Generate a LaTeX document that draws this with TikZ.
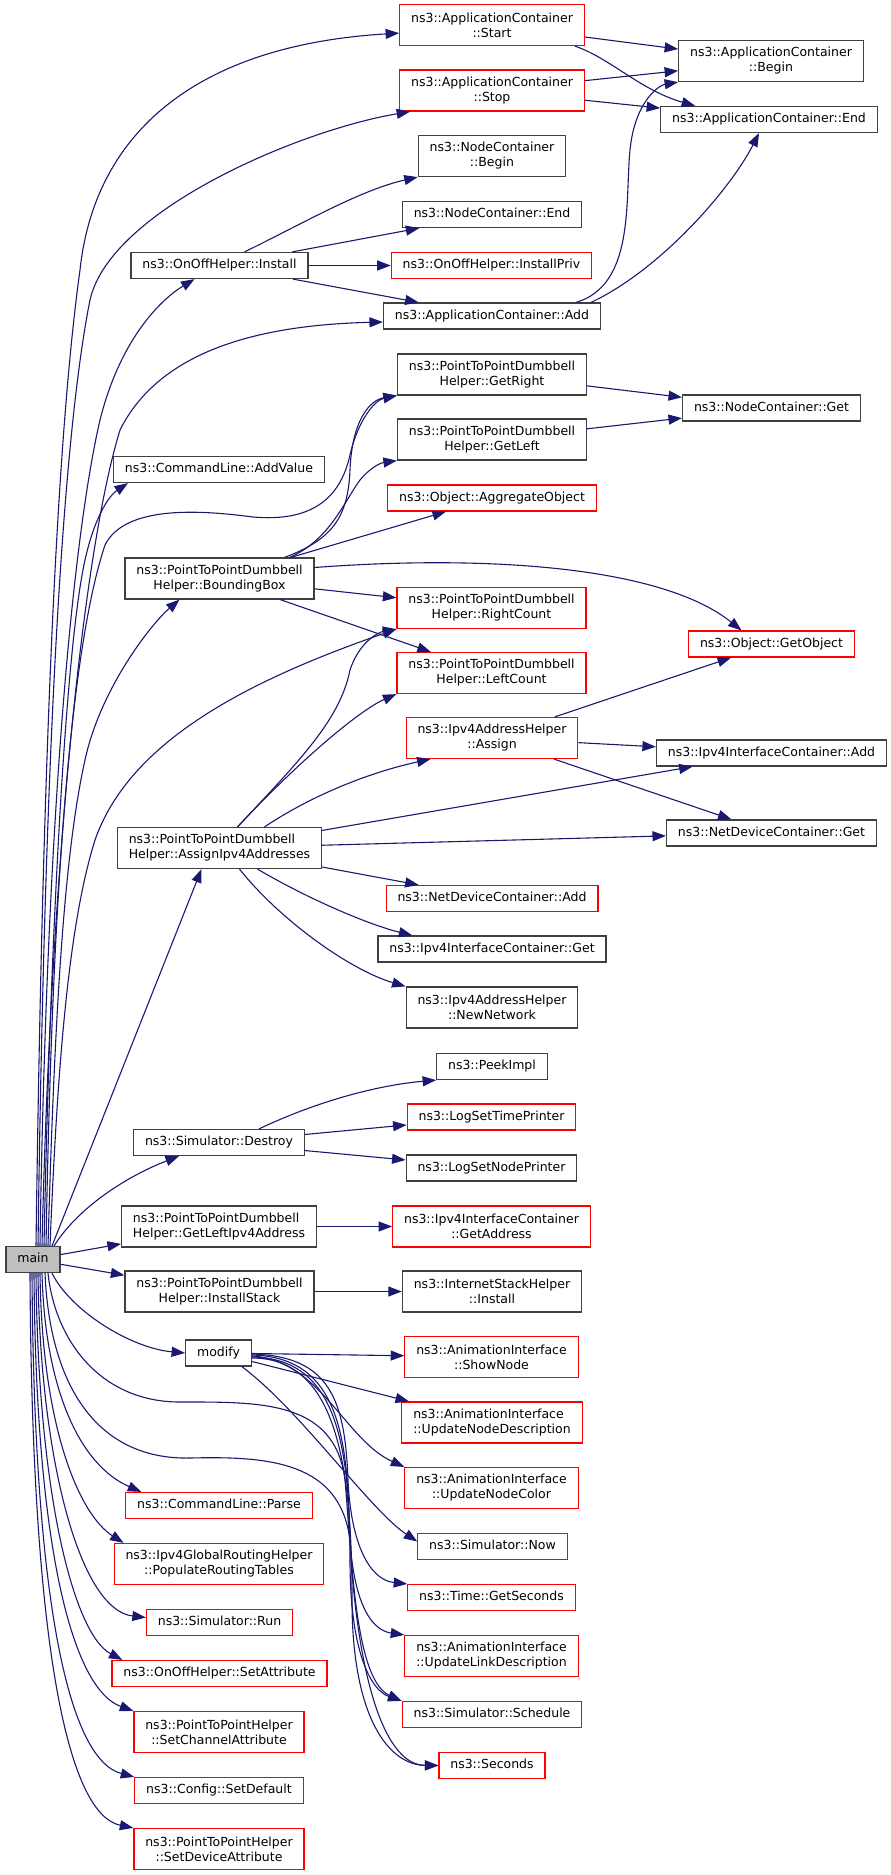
\documentclass[tikz,border=0pt]{standalone}
\usepackage{fontspec}
\setmainfont{DejaVu Sans}
\usepackage{tikz}
\usetikzlibrary{arrows.meta}
\definecolor{midnight}{RGB}{25,25,112}
\definecolor{boxgray}{RGB}{64,64,64}
\definecolor{rootgray}{RGB}{191,191,191}
\newcommand{\dxfont}{\fontsize{12.5}{15}\selectfont}
\tikzset{
    fnbase/.style={rectangle, draw=boxgray, line width=1.2pt, fill=white, inner xsep=11.4pt, inner ysep=0pt, font=\dxfont},
    fn/.style={fnbase, minimum height=26pt, text height=9.4pt, text depth=2.6pt},
    fntwo/.style={fnbase, minimum height=41pt, align=center},
    undoc/.style={draw=red},
    root/.style={fill=rootgray},
    callto/.style={draw=midnight, line width=1.1pt, -{Triangle[length=13.5pt, width=10pt]}}
}

\begin{document}
\begin{tikzpicture}[x=1pt, y=-1pt]
        \useasboundingbox (0,0) rectangle (891,1875);

        % Caller
        \node[fn, root] (main) at (33,1259.5) {main};

        % Second column
        \node[fn] (Install) at (219.5,265.5) {ns3::OnOffHelper::Install};
        \node[fn] (AddValue) at (219,469.5) {ns3::CommandLine::AddValue};
        \node[fntwo] (BBox) at (219.5,578.5) {ns3::PointToPointDumbbell\\Helper::BoundingBox};
        \node[fntwo, align=left] (AssignIpv4) at (219.5,848) {ns3::PointToPointDumbbell\\Helper::AssignIpv4Addresses};
        \node[fn] (Destroy) at (219,1142.5) {ns3::Simulator::Destroy};
        \node[fntwo, align=left] (GetLeftIpv4) at (219,1226.5) {ns3::PointToPointDumbbell\\Helper::GetLeftIpv4Address};
        \node[fntwo] (InstallStack) at (219.5,1291.5) {ns3::PointToPointDumbbell\\Helper::InstallStack};
        \node[fn] (modify) at (218.5,1353) {modify};
        \node[fn, undoc] (Parse) at (219,1505.5) {ns3::CommandLine::Parse};
        \node[fntwo, undoc] (Populate) at (219,1564) {ns3::Ipv4GlobalRoutingHelper\\::PopulateRoutingTables};
        \node[fn, undoc] (Run) at (219.5,1622.5) {ns3::Simulator::Run};
        \node[fn, undoc] (SetAttr) at (219.5,1673.5) {ns3::OnOffHelper::SetAttribute};
        \node[fntwo, undoc] (SetChan) at (219,1732) {ns3::PointToPointHelper\\::SetChannelAttribute};
        \node[fn, undoc] (SetDefault) at (219,1790.5) {ns3::Config::SetDefault};
        \node[fntwo, undoc] (SetDevice) at (219,1849) {ns3::PointToPointHelper\\::SetDeviceAttribute};

        % Third column
        \node[fntwo, undoc] (Start) at (492,25) {ns3::ApplicationContainer\\::Start};
        \node[fntwo, undoc] (Stop) at (492,90.5) {ns3::ApplicationContainer\\::Stop};
        \node[fntwo] (NCBegin) at (492,156) {ns3::NodeContainer\\::Begin};
        \node[fn] (NCEnd) at (492,214.5) {ns3::NodeContainer::End};
        \node[fn, undoc] (InstallPriv) at (491.5,265.5) {ns3::OnOffHelper::InstallPriv};
        \node[fn] (AppAdd) at (492,316) {ns3::ApplicationContainer::Add};
        \node[fntwo] (GetRight) at (492,374.5) {ns3::PointToPointDumbbell\\Helper::GetRight};
        \node[fntwo] (GetLeft) at (492,439.5) {ns3::PointToPointDumbbell\\Helper::GetLeft};
        \node[fn, undoc] (AggObj) at (492,498) {ns3::Object::AggregateObject};
        \node[fntwo, undoc] (RightCount) at (491.5,608) {ns3::PointToPointDumbbell\\Helper::RightCount};
        \node[fntwo, undoc] (LeftCount) at (491.5,673) {ns3::PointToPointDumbbell\\Helper::LeftCount};
        \node[fntwo, undoc] (Assign) at (492,738) {ns3::Ipv4AddressHelper\\::Assign};
        \node[fn, undoc] (NDCAdd) at (492,898.5) {ns3::NetDeviceContainer::Add};
        \node[fn] (IICGet) at (492,949) {ns3::Ipv4InterfaceContainer::Get};
        \node[fntwo] (NewNetwork) at (492,1007.5) {ns3::Ipv4AddressHelper\\::NewNetwork};
        \node[fn] (PeekImpl) at (492,1066.5) {ns3::PeekImpl};
        \node[fn, undoc] (LogTime) at (491.5,1117) {ns3::LogSetTimePrinter};
        \node[fn] (LogNode) at (491.5,1168) {ns3::LogSetNodePrinter};
        \node[fntwo, undoc] (GetAddress) at (491.5,1226.5) {ns3::Ipv4InterfaceContainer\\::GetAddress};
        \node[fntwo] (ISHInstall) at (492,1291.5) {ns3::InternetStackHelper\\::Install};
        \node[fntwo, undoc] (ShowNode) at (491.5,1357) {ns3::AnimationInterface\\::ShowNode};
        \node[fntwo, undoc, align=left] (UNDesc) at (492,1422.5) {ns3::AnimationInterface\\::UpdateNodeDescription};
        \node[fntwo, undoc] (UNColor) at (491.5,1488) {ns3::AnimationInterface\\::UpdateNodeColor};
        \node[fn, undoc] (Now) at (492.5,1546.5) {ns3::Simulator::Now};
        \node[fn, undoc] (GetSeconds) at (491.5,1597.5) {ns3::Time::GetSeconds};
        \node[fntwo, undoc, align=left] (ULDesc) at (491.5,1656) {ns3::AnimationInterface\\::UpdateLinkDescription};
        \node[fn, undoc] (Schedule) at (492,1714.5) {ns3::Simulator::Schedule};
        \node[fn, undoc] (Seconds) at (492,1765.5) {ns3::Seconds};

        % Fourth column
        \node[fntwo] (Begin) at (771,61) {ns3::ApplicationContainer\\::Begin};
        \node[fn] (End) at (769,119.5) {ns3::ApplicationContainer::End};
        \node[fn] (NCGet) at (771.5,408) {ns3::NodeContainer::Get};
        \node[fn, undoc] (GetObject) at (771.5,644) {ns3::Object::GetObject};
        \node[fn] (IICAdd) at (771.5,753) {ns3::Ipv4InterfaceContainer::Add};
        \node[fn] (NDCGet) at (771.5,833) {ns3::NetDeviceContainer::Get};

        % Calls from main, upwards
        \draw[callto] ([xshift=3pt]main.north) .. controls (42,800) and (55,450) .. (80,270) .. controls (95,130) and (200,45) .. (Start.185);
        \draw[callto] ([xshift=5pt]main.north) .. controls (44,800) and (60,450) .. (90,300) .. controls (110,210) and (300,130) .. ([xshift=11pt]Stop.south west);
        \draw[callto] ([xshift=7pt]main.north) .. controls (46,850) and (70,550) .. (100,420) .. controls (120,340) and (160,300) .. ([xshift=-25pt]Install.south);
        \draw[callto] ([xshift=9pt]main.north) .. controls (50,900) and (80,560) .. (120,430) .. controls (160,350) and (260,325) .. ([yshift=-6pt]AppAdd.west);
        \draw[callto] ([xshift=11pt]main.north) .. controls (50,950) and (65,650) .. (85,560) .. controls (95,515) and (110,495) .. ([xshift=15pt]AddValue.south west);
        \draw[callto] ([xshift=13pt]main.north) .. controls (52,900) and (70,650) .. (105,545) .. controls (125,505) and (200,510) .. (253,517) .. controls (310,522) and (340,500) .. (350,455) .. controls (358,420) and (375,400) .. (GetRight.south west);
        \draw[callto] ([xshift=15pt]main.north) .. controls (55,1000) and (65,850) .. (85,760) .. controls (100,690) and (150,625) .. ([xshift=-40pt]BBox.south);
        \draw[callto] ([xshift=17pt]main.north) .. controls (58,1050) and (70,920) .. (95,840) .. controls (130,740) and (250,680) .. (RightCount.south west);
        \draw[callto] ([xshift=19pt]main.north) -- ([xshift=-18pt]AssignIpv4.south);
        \draw[callto] ([xshift=21pt]main.north) .. controls (80,1205) and (130,1175) .. ([xshift=-40pt]Destroy.south);

        % Calls from main, sideways and downwards
        \draw[callto] (main) -- (GetLeftIpv4);
        \draw[callto] (main) -- (InstallStack);
        \draw[callto] ([xshift=19pt]main.south) .. controls (70,1310) and (130,1348) .. (modify.west);
        \draw[callto] ([xshift=15pt]main.south) .. controls (55,1340) and (100,1402) .. (180,1402) .. controls (260,1402) and (335,1400) .. (345,1480) .. controls (352,1560) and (355,1680) .. (Schedule.north west);
        \draw[callto] ([xshift=12pt]main.south) .. controls (50,1390) and (100,1460) .. (190,1458) .. controls (270,1456) and (340,1462) .. (350,1540) .. controls (356,1660) and (380,1765) .. (Seconds.west);
        \draw[callto] ([xshift=9pt]main.south) .. controls (45,1390) and (80,1465) .. ([xshift=16pt]Parse.north west);
        \draw[callto] ([xshift=7pt]main.south) .. controls (42,1430) and (80,1515) .. ([xshift=10pt]Populate.north west);
        \draw[callto] ([xshift=5pt]main.south) .. controls (40,1460) and (80,1610) .. ([yshift=5pt]Run.west);
        \draw[callto] ([xshift=3pt]main.south) .. controls (38,1500) and (75,1635) .. ([xshift=11pt]SetAttr.north west);
        \draw[callto] ([xshift=1pt]main.south) .. controls (36,1560) and (75,1690) .. (SetChan.north west);
        \draw[callto] ([xshift=-1pt]main.south) .. controls (34,1610) and (70,1760) .. (SetDefault.north west);
        \draw[callto] ([xshift=-3pt]main.south) .. controls (32,1660) and (70,1815) .. (SetDevice.north west);

        % Application container
        \draw[callto] (Start) -- (Begin);
        \draw[callto] ([xshift=-10pt]Start.south east) .. controls (610,58) and (640,90) .. ([xshift=35pt]End.north west);
        \draw[callto] (Stop) -- (Begin);
        \draw[callto] (Stop) -- (End);
        \draw[callto] ([xshift=25pt]Install.north) .. controls (300,225) and (360,190) .. (NCBegin.south west);
        \draw[callto] (Install) -- (NCEnd);
        \draw[callto] (Install) -- (InstallPriv);
        \draw[callto] (Install) -- (AppAdd);
        \draw[callto] ([xshift=-25pt]AppAdd.north east) .. controls (635,285) and (625,200) .. (630,150) .. controls (635,100) and (660,85) .. (Begin.south west);
        \draw[callto] ([xshift=-10pt]AppAdd.north east) .. controls (660,270) and (730,190) .. ([xshift=-10pt]End.south);
        \draw[callto] (GetRight) -- (NCGet);
        \draw[callto] (GetLeft) -- (NCGet);

        % Bounding box
        \draw[callto] ([xshift=-30pt]BBox.north east) .. controls (330,540) and (348,520) .. (350,470) .. controls (352,420) and (370,400) .. (GetRight.south west);
        \draw[callto] ([xshift=-25pt]BBox.north east) .. controls (330,540) and (345,500) .. (360,480) .. controls (370,468) and (380,463) .. (GetLeft.south west);
        \draw[callto] (BBox) -- (AggObj);
        \draw[callto] ([yshift=11pt]BBox.east) .. controls (480,555) and (660,565) .. ([xshift=-30pt]GetObject.north);
        \draw[callto] (BBox) -- (RightCount);
        \draw[callto] (BBox) -- (LeftCount);

        % Addresses
        \draw[callto] ([xshift=18pt]AssignIpv4.north) .. controls (300,760) and (340,720) .. (350,670) .. controls (360,640) and (380,632) .. (RightCount.south west);
        \draw[callto] ([xshift=18pt]AssignIpv4.north) .. controls (300,760) and (360,710) .. (LeftCount.south west);
        \draw[callto] ([xshift=45pt]AssignIpv4.north) .. controls (320,790) and (380,770) .. ([xshift=25pt]Assign.south west);
        \draw[callto] (AssignIpv4) -- (IICAdd);
        \draw[callto] (AssignIpv4) -- (NDCGet);
        \draw[callto] (AssignIpv4) -- (NDCAdd);
        \draw[callto] ([xshift=38pt]AssignIpv4.south) .. controls (310,900) and (370,925) .. ([xshift=35pt]IICGet.north west);
        \draw[callto] ([xshift=20pt]AssignIpv4.south) .. controls (280,920) and (350,970) .. (NewNetwork.north west);
        \draw[callto] (Assign) -- (GetObject);
        \draw[callto] (Assign) -- (IICAdd);
        \draw[callto] (Assign) -- (NDCGet);

        % Simulator and helpers
        \draw[callto] ([xshift=40pt]Destroy.north) .. controls (320,1100) and (380,1085) .. (PeekImpl.south west);
        \draw[callto] (Destroy) -- (LogTime);
        \draw[callto] (Destroy) -- (LogNode);
        \draw[callto] (GetLeftIpv4) -- (GetAddress);
        \draw[callto] (InstallStack) -- (ISHInstall);

        % Animation updates
        \draw[callto] (modify) -- (ShowNode);
        \draw[callto] (modify) -- (UNDesc);
        \draw[callto] ([yshift=-3pt]modify.east) .. controls (320,1360) and (345,1440) .. (UNColor.north west);
        \draw[callto] ([xshift=-10pt]modify.south east) .. controls (300,1410) and (370,1510) .. ([yshift=5pt]Now.west);
        \draw[callto] ([yshift=-1pt]modify.east) .. controls (330,1356) and (345,1400) .. (348,1480) .. controls (351,1545) and (370,1580) .. (GetSeconds.north west);
        \draw[callto] ([yshift=-2pt]modify.east) .. controls (330,1357) and (347,1420) .. (349,1520) .. controls (351,1600) and (370,1630) .. (ULDesc.north west);
        \draw[callto] ([yshift=-4pt]modify.east) .. controls (335,1358) and (350,1440) .. (350,1560) .. controls (350,1650) and (370,1690) .. (Schedule.north west);
        \draw[callto] ([yshift=-5pt]modify.east) .. controls (335,1358) and (352,1460) .. (352,1600) .. controls (352,1720) and (390,1765) .. (Seconds.west);

\end{tikzpicture}
\end{document}
